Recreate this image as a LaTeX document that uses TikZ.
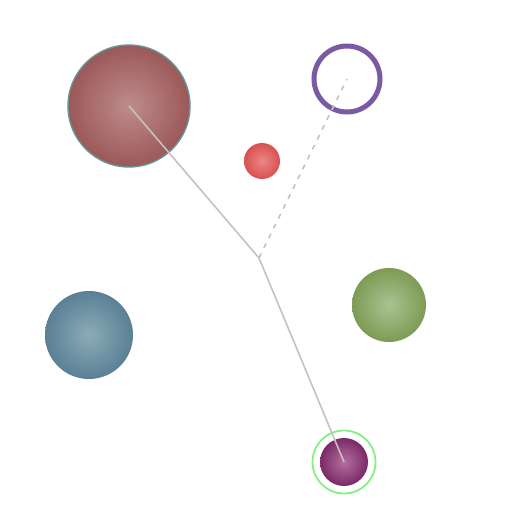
\documentclass[tikz,border=0pt]{standalone}
\begin{document}
\begin{tikzpicture}[x=1pt,y=-1pt,
  ball/.style={circle,inner sep=0pt,draw=none},
  link/.style={draw={rgb,255:red,200;green,192;blue,192},line width=1.6pt},
  dlink/.style={link,dash pattern=on 5pt off 6pt}]
\useasboundingbox (0,0) rectangle (512,512);
\definecolor{bigred}{RGB}{155,88,88}
\definecolor{bigredin}{RGB}{190,140,140}
\definecolor{tealedge}{RGB}{100,150,150}
\definecolor{smred}{RGB}{218,80,80}
\definecolor{smredin}{RGB}{235,135,135}
\definecolor{grn}{RGB}{125,155,85}
\definecolor{grnin}{RGB}{170,195,145}
\definecolor{blu}{RGB}{90,128,150}
\definecolor{bluin}{RGB}{140,172,182}
\definecolor{mag}{RGB}{122,42,102}
\definecolor{magin}{RGB}{180,110,160}
\definecolor{ring}{RGB}{122,90,162}
\definecolor{ltgreen}{RGB}{130,240,130}

\node[ball,minimum size=122pt,shading=radial,inner color=bigredin,outer color=bigred,draw=tealedge,line width=1.4pt] (big) at (129,106) {};
\node[ball,minimum size=36pt,shading=radial,inner color=smredin,outer color=smred] (small) at (262,161) {};
\node[ball,minimum size=74pt,shading=radial,inner color=grnin,outer color=grn] (green) at (389,305) {};
\node[ball,minimum size=88pt,shading=radial,inner color=bluin,outer color=blu] (blue) at (89,335) {};
\node[circle,inner sep=0pt,minimum size=63pt,draw=ltgreen,line width=1.8pt] (gring) at (344,462) {};
\node[ball,minimum size=48pt,shading=radial,inner color=magin,outer color=mag] (mag) at (344,462) {};
\node[circle,inner sep=0pt,minimum size=66pt,draw=ring,line width=5pt] (pring) at (347,79) {};
\coordinate (j) at (259,258);

\draw[link] (big.center) -- (j);
\draw[link] (j) -- (mag.center);
\draw[dlink] (j) -- (pring.center);
\end{tikzpicture}
\end{document}
